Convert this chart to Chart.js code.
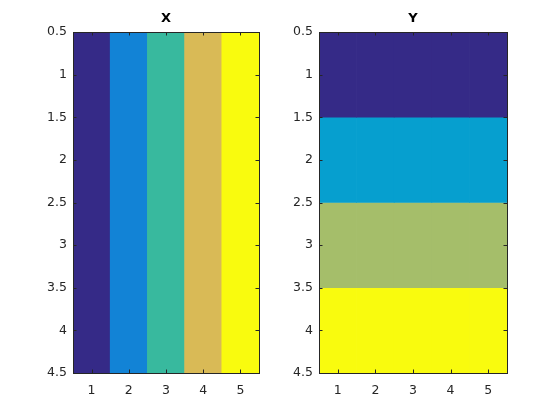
<!DOCTYPE html>
<html>
<head>
<meta charset="utf-8">
<script src="https://cdn.jsdelivr.net/npm/chart.js@4"></script>
<style>
  body { margin: 0; background: #fff; }
  .wrap { position: relative; width: 560px; height: 420px; }
  .wrap canvas { position: absolute; left: 0; top: 0; }
</style>
</head>
<body>
<div class="wrap">
  <canvas id="chartX" width="560" height="420"></canvas>
  <canvas id="chartY" width="560" height="420"></canvas>
</div>
<script>
// grid values
const cols = [1, 2, 3, 4, 5];
const rows = [1, 2, 3, 4];
const xTicks = [1, 2, 3, 4, 5];
const yTicks = [0.5, 1, 1.5, 2, 2.5, 3, 3.5, 4, 4.5];
// parula colours for X (value = column) and Y (value = row)
const xColors = ['#352a87', '#1283d6', '#38b99e', '#d9ba56', '#f9fb0e'];
const yColors = ['#352a87', '#069fcf', '#a5be6a', '#f9fb0e'];

const ink = '#262626';
const tickFont = { family: 'DejaVu Sans', size: 12.5 };

// box around the axes + inward ticks on every side, and the title
const framePlugin = {
    id: 'frame',
    afterDraw(chart, args, opts) {
        const ctx = chart.ctx;
        const a = chart.chartArea;
        const xs = chart.scales.x, ys = chart.scales.y;
        const tl = 3.5;
        ctx.save();
        ctx.strokeStyle = ink;
        ctx.lineWidth = 1;
        ctx.beginPath();
        xTicks.forEach(v => {
            const px = Math.round(xs.getPixelForValue(v)) + 0.5;
            ctx.moveTo(px, a.bottom); ctx.lineTo(px, a.bottom - tl);
            ctx.moveTo(px, a.top); ctx.lineTo(px, a.top + tl);
        });
        yTicks.forEach(v => {
            const py = Math.round(ys.getPixelForValue(v)) + 0.5;
            ctx.moveTo(a.left, py); ctx.lineTo(a.left + tl, py);
            ctx.moveTo(a.right, py); ctx.lineTo(a.right - tl, py);
        });
        ctx.stroke();
        ctx.strokeRect(Math.round(a.left) + 0.5, Math.round(a.top) + 0.5,
            Math.round(a.right - a.left), Math.round(a.bottom - a.top));
        ctx.fillStyle = '#000';
        ctx.font = 'bold 13px "DejaVu Sans"';
        ctx.textAlign = 'center';
        ctx.textBaseline = 'middle';
        ctx.fillText(opts.text, (a.left + a.right) / 2, 19);
        ctx.restore();
    }
};

function makeScales(yWidth) {
    return {
        x: {
            type: 'linear',
            offset: false,
            min: 0.5,
            max: 5.5,
            ticks: { stepSize: 1, color: ink, font: tickFont, padding: 10, maxRotation: 0,
                     callback: v => String(v) },
            afterBuildTicks: s => { s.ticks = xTicks.map(v => ({ value: v })); },
            afterFit: s => { s.height = 47; },
            grid: { display: false, drawTicks: false, offset: false },
            border: { display: false }
        },
        y: {
            type: 'linear',
            reverse: true,
            min: 0.5,
            max: 4.5,
            ticks: { stepSize: 0.5, color: ink, font: tickFont, padding: 6,
                     callback: v => String(v) },
            afterBuildTicks: s => { s.ticks = yTicks.map(v => ({ value: v })); },
            afterFit: s => { s.width = yWidth; },
            grid: { display: false, drawTicks: false },
            border: { display: false }
        }
    };
}

const commonPlugins = {
    legend: { display: false },
    tooltip: { enabled: false }
};

// X: each column holds its column index
new Chart(document.getElementById('chartX'), {
    type: 'bar',
    data: {
        datasets: [{
            data: cols.map(c => ({ x: c, y: [0.5, 4.5] })),
            backgroundColor: xColors,
            borderWidth: 0,
            barPercentage: 1,
            categoryPercentage: 1
        }]
    },
    options: {
        responsive: false,
        animation: false,
        layout: { padding: { top: 32, right: 301, left: 0, bottom: 0 } },
        scales: makeScales(73),
        plugins: Object.assign({ frame: { text: 'X' } }, commonPlugins)
    },
    plugins: [framePlugin]
});

// Y: each row holds its row index
new Chart(document.getElementById('chartY'), {
    type: 'bar',
    data: {
        datasets: rows.map((r, i) => ({
            data: cols.map(c => ({ x: c, y: [r - 0.5, r + 0.5] })),
            backgroundColor: yColors[i],
            borderWidth: 0,
            barPercentage: 1,
            categoryPercentage: 1,
            grouped: false
        }))
    },
    options: {
        responsive: false,
        animation: false,
        layout: { padding: { top: 32, right: 53, left: 0, bottom: 0 } },
        scales: makeScales(319),
        plugins: Object.assign({ frame: { text: 'Y' } }, commonPlugins)
    },
    plugins: [framePlugin]
});
</script>
</body>
</html>
